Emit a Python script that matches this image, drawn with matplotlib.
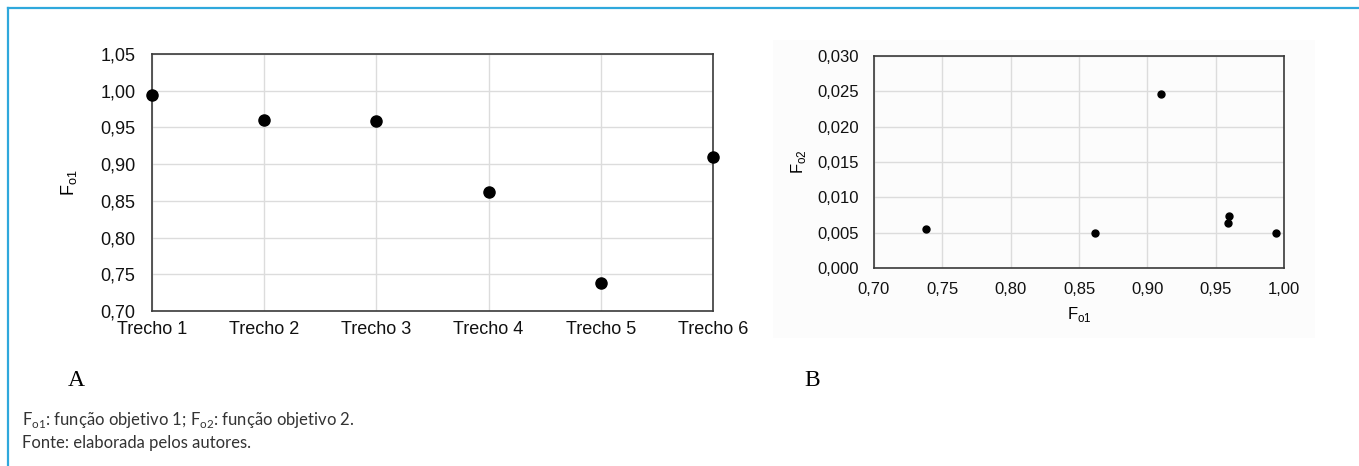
from matplotlib import pyplot as plt
from matplotlib.patches import Rectangle
from matplotlib.lines import Line2D

# values
trechos = ['Trecho 1', 'Trecho 2', 'Trecho 3', 'Trecho 4', 'Trecho 5', 'Trecho 6']
fo1 = [0.994, 0.960, 0.959, 0.862, 0.738, 0.910]
fo2 = [0.0050, 0.0073, 0.0063, 0.0049, 0.0055, 0.0246]

y_ticks_a = [0.70, 0.75, 0.80, 0.85, 0.90, 0.95, 1.00, 1.05]
x_ticks_b = [0.70, 0.75, 0.80, 0.85, 0.90, 0.95, 1.00]
y_ticks_b = [0.000, 0.005, 0.010, 0.015, 0.020, 0.025, 0.030]

W, H = 1359, 466
plt.rcParams['font.family'] = ['Liberation Sans', 'DejaVu Sans']


def box(x0, y0, x1, y1):
    # pixel box (top-left origin) -> figure fraction
    return [x0 / W, 1 - y1 / H, (x1 - x0) / W, (y1 - y0) / H]


def comma(v, nd):
    return f'{v:.{nd}f}'.replace('.', ',')


def style_axes(ax):
    ax.grid(True, color='#dcdcdc', linewidth=1.0)
    ax.set_axisbelow(True)
    for s in ax.spines.values():
        s.set_color('#3a3a3a')
        s.set_linewidth(1.2)
    ax.tick_params(length=0, colors='#111111')


fig = plt.figure(figsize=(W / 100, H / 100), dpi=100)

# blue frame, top and left only
fig.add_artist(Line2D([8 / W, 1], [1 - 8 / H, 1 - 8 / H], color='#2fa8dc', linewidth=1.6))
fig.add_artist(Line2D([8 / W, 8 / W], [0, 1 - 8 / H], color='#2fa8dc', linewidth=1.6))

# very faint background behind panel B
fig.add_artist(Rectangle((773 / W, 1 - 338 / H), (1315 - 773) / W, (338 - 40) / H,
                         transform=fig.transFigure, facecolor='#fcfcfc', edgecolor='none', zorder=0))

# panel A
ax1 = fig.add_axes(box(152, 54, 713, 311))
x_pos = list(range(len(trechos)))
ax1.plot(x_pos, fo1, 'o', color='black', markersize=8, clip_on=False, zorder=3)
ax1.set_xlim(0, len(trechos) - 1)
ax1.set_ylim(0.70, 1.05)
ax1.set_xticks(x_pos)
ax1.set_xticklabels(trechos, fontsize=13)
ax1.set_yticks(y_ticks_a)
ax1.set_yticklabels([comma(v, 2) for v in y_ticks_a], fontsize=13)
style_axes(ax1)
ax1.tick_params(axis='x', pad=7)
ax1.tick_params(axis='y', pad=12)
ax1.set_ylabel('F$_{\\mathregular{o1}}$', fontsize=13)
ax1.yaxis.set_label_coords(-0.13, 0.5)
ax1.patch.set_alpha(0)

# panel B
ax2 = fig.add_axes(box(874, 56, 1284, 268))
ax2.plot(fo1, fo2, 'o', color='black', markersize=5, clip_on=False, zorder=3)
ax2.set_xlim(0.70, 1.00)
ax2.set_ylim(0.0, 0.030)
ax2.set_xticks(x_ticks_b)
ax2.set_xticklabels([comma(v, 2) for v in x_ticks_b], fontsize=12)
ax2.set_yticks(y_ticks_b)
ax2.set_yticklabels([comma(v, 3) for v in y_ticks_b], fontsize=12)
style_axes(ax2)
ax2.tick_params(axis='x', pad=10)
ax2.tick_params(axis='y', pad=11)
ax2.set_xlabel('F$_{\\mathregular{o1}}$', fontsize=12, labelpad=6)
ax2.set_ylabel('F$_{\\mathregular{o2}}$', fontsize=12)
ax2.yaxis.set_label_coords(-0.16, 0.50)
ax2.patch.set_alpha(0)

# panel letters
fig.text(76 / W, 1 - 381 / H, 'A', fontsize=17, family=['Liberation Serif', 'DejaVu Serif'],
         ha='center', va='center')
fig.text(812 / W, 1 - 380 / H, 'B', fontsize=17, family=['Liberation Serif', 'DejaVu Serif'],
         ha='center', va='center')

# caption
cap_font = ['Lato', 'DejaVu Sans']
fig.text(22 / W, 1 - 420 / H,
         'F$_{\\mathregular{o1}}$: função objetivo 1; F$_{\\mathregular{o2}}$: função objetivo 2.',
         fontsize=12, family=cap_font, color='#333333', va='center')
fig.text(22 / W, 1 - 443 / H, 'Fonte: elaborada pelos autores.',
         fontsize=12, family=cap_font, color='#333333', va='center')

fig.savefig('out.png', dpi=100)
